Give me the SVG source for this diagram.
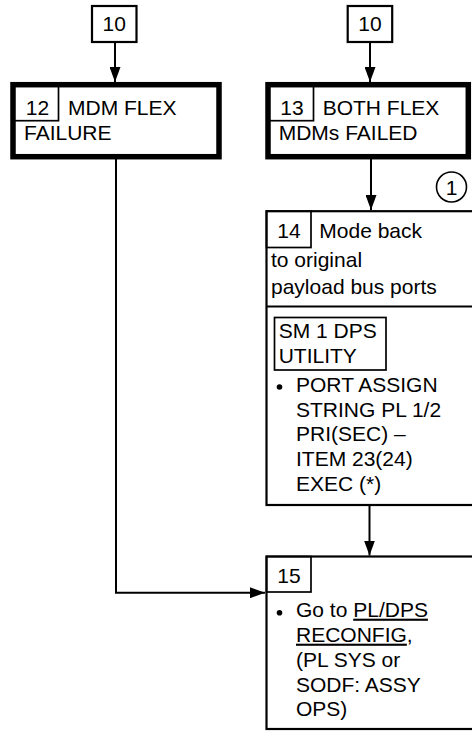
<svg xmlns="http://www.w3.org/2000/svg" width="472" height="731" viewBox="0 0 472 731">
<style>
text{font-family:"Liberation Sans",Arial,sans-serif;font-size:21px;fill:#000}
.c{text-anchor:middle}
.thin{fill:none;stroke:#000;stroke-width:1.7}
.box{fill:#fff;stroke:#000;stroke-width:2.2}
.thick{fill:#fff;stroke:#000;stroke-width:5.5}
.ln{fill:none;stroke:#000;stroke-width:2}
.u{text-decoration:underline}
</style>
<defs>
<marker id="ah" viewBox="0 0 15 11" refX="15" refY="5.5" markerWidth="15" markerHeight="11" markerUnits="userSpaceOnUse" orient="auto">
<path d="M0,0 L15,5.5 L0,11 Z" fill="#000"/>
</marker>
</defs>
<g id="connectors">
<line class="ln" x1="115" y1="42" x2="115" y2="82" marker-end="url(#ah)"/>
<line class="ln" x1="370" y1="42" x2="370" y2="82" marker-end="url(#ah)"/>
<line class="ln" x1="371" y1="159" x2="371" y2="210" marker-end="url(#ah)"/>
<line class="ln" x1="369.5" y1="505" x2="369.5" y2="555.5" marker-end="url(#ah)"/>
<path class="ln" d="M116,159 V592.7 H265" marker-end="url(#ah)"/>
</g>
<g id="n10a">
<rect class="box" x="92" y="6" width="44.5" height="36" stroke-width="1.8"/>
<text class="c" x="114.2" y="30.5">10</text>
</g>
<g id="n10b">
<rect class="box" x="347.7" y="6" width="44.5" height="36" stroke-width="1.8"/>
<text class="c" x="370" y="30.5">10</text>
</g>
<g id="n12">
<rect class="thick" x="13" y="84.7" width="206" height="72"/>
<rect class="thin" x="13" y="84.7" width="45.5" height="36"/>
<text class="c" x="37.5" y="115">12</text>
<text x="68" y="115">MDM FLEX</text>
<text x="24" y="140">FAILURE</text>
</g>
<g id="n13">
<rect class="thick" x="268" y="84.7" width="200.3" height="72"/>
<rect class="thin" x="268" y="84.7" width="45.5" height="36"/>
<text class="c" x="292" y="115">13</text>
<text x="322.7" y="115">BOTH FLEX</text>
<text x="278.7" y="140">MDMs FAILED</text>
</g>
<g id="n1">
<circle cx="451.5" cy="187" r="15" fill="#fff" stroke="#000" stroke-width="1.6"/>
<text class="c" x="451.5" y="194.5">1</text>
</g>
<g id="n14">
<rect class="box" x="266.5" y="211.2" width="220" height="293.8"/>
<rect class="thin" x="266.5" y="211.2" width="44.5" height="36.3"/>
<line class="ln" x1="266" y1="306.5" x2="472" y2="306.5" stroke-width="2.2"/>
<text class="c" x="289" y="238.3">14</text>
<text x="319.3" y="238.3">Mode back</text>
<text x="271" y="266.7">to original</text>
<text x="271" y="294">payload bus ports</text>
<rect class="thin" x="274.5" y="317.5" width="111.5" height="52.5"/>
<text x="278.7" y="338.3">SM 1 DPS</text>
<text x="278.7" y="363.3">UTILITY</text>
<circle cx="279.5" cy="387" r="2.8" fill="#000"/>
<text x="296" y="391.7">PORT ASSIGN</text>
<text x="296" y="416.5">STRING PL 1/2</text>
<text x="296" y="441.3">PRI(SEC) –</text>
<text x="296" y="466">ITEM 23(24)</text>
<text x="296" y="490.7">EXEC (*)</text>
</g>
<g id="n15">
<rect class="box" x="266.5" y="556.5" width="220" height="172.5"/>
<rect class="thin" x="266.5" y="556.5" width="44.5" height="35.5"/>
<text class="c" x="289" y="583.3">15</text>
<circle cx="279.5" cy="612.7" r="2.8" fill="#000"/>
<text x="296" y="616.7">Go to <tspan class="u">PL/DPS</tspan></text>
<text x="296" y="641.7"><tspan class="u">RECONFIG</tspan>,</text>
<text x="296" y="666.7">(PL SYS or</text>
<text x="296" y="691.5">SODF: ASSY</text>
<text x="296" y="716">OPS)</text>
</g>
</svg>
